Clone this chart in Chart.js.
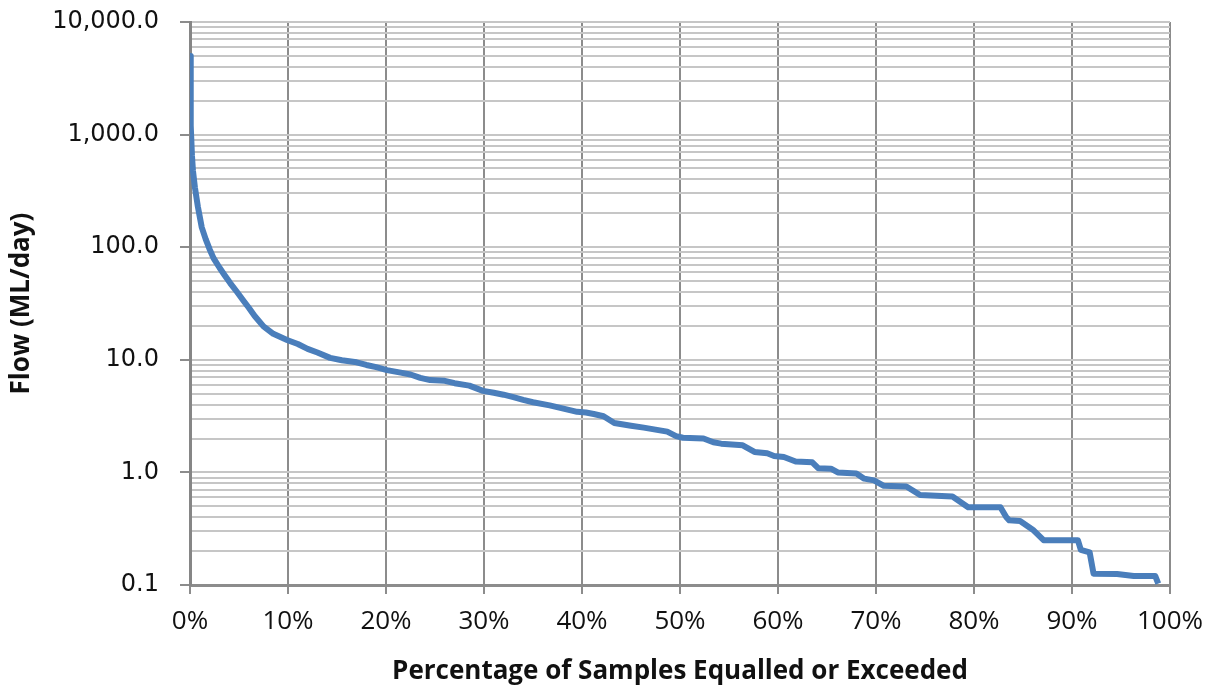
<!DOCTYPE html>
<html>
<head>
<meta charset="utf-8">
<script src="https://cdn.jsdelivr.net/npm/chart.js@4/dist/chart.umd.min.js"></script>
<style>
  html, body { margin: 0; padding: 0; background: #ffffff; }
  #wrap { width: 1217px; height: 689px; }
</style>
</head>
<body>
<div id="wrap"><canvas id="c" width="1217" height="689"></canvas></div>
<script>
// Flow duration curve: percentage of samples equalled or exceeded vs flow (ML/day)
const pctExceeded = [
  0, 0.05, 0.1, 0.2, 0.3, 0.5, 0.8, 1.2, 1.6, 2.0, 2.4, 3.0, 3.5, 4.1, 4.8, 5.4, 6.0, 6.6, 7.5, 8.5,
  9.9, 11, 12, 13, 14.3, 15.5, 17, 18, 19, 20.1, 21.5, 22.5, 23.5, 24.5, 26, 27, 28.5, 29.9, 31, 32,
  33, 34, 35, 36.7, 38, 39.5, 40.4, 41.2, 42.2, 43.3, 45, 46.3, 47.5, 48.7, 49.6, 50.3, 52.4, 53.4, 54.2, 56.4,
  57.6, 58.9, 59.6, 60.6, 61.8, 63.5, 64.1, 65.4, 66.1, 68.0, 68.8, 69.8, 70.8, 73.1, 74.5, 77.8, 79.4, 82.7, 83.3, 83.6,
  84.7, 86.0, 87.1, 90.6, 90.9, 91.8, 92.2, 94.6, 96.3, 98.5, 98.8
];
const flowMLday = [
  5000, 2500, 1200, 650, 480, 340, 230, 150, 118, 96, 80, 66, 57, 48, 40, 34, 29, 24.5, 19.8, 17,
  15, 13.8, 12.5, 11.6, 10.4, 9.9, 9.5, 9.0, 8.6, 8.1, 7.7, 7.4, 6.9, 6.6, 6.5, 6.2, 5.9, 5.3, 5.1, 4.9,
  4.66, 4.4, 4.2, 3.94, 3.7, 3.45, 3.4, 3.3, 3.15, 2.75, 2.6, 2.5, 2.4, 2.3, 2.1, 2.03, 2.0, 1.85, 1.8, 1.74,
  1.52, 1.48, 1.4, 1.37, 1.25, 1.23, 1.09, 1.08, 1.0, 0.98, 0.88, 0.85, 0.76, 0.75, 0.63, 0.61, 0.49, 0.49, 0.40, 0.375,
  0.37, 0.31, 0.25, 0.25, 0.205, 0.195, 0.126, 0.125, 0.12, 0.12, 0.103
];

// Axis ticks
const xTickValues = [0, 10, 20, 30, 40, 50, 60, 70, 80, 90, 100];
const decadeTicks = [0.1, 1, 10, 100, 1000, 10000];
const minorMultipliers = [2, 3, 4, 5, 6, 7, 8, 9];

const xTitle = 'Percentage of Samples Equalled or Exceeded';
const yTitle = 'Flow (ML/day)';

const points = pctExceeded.map((p, i) => ({ x: p, y: flowMLday[i] }));

const isDecade = v => decadeTicks.some(d => Math.abs(v - d) < d * 1e-9);

new Chart(document.getElementById('c'), {
  type: 'line',
  data: {
    datasets: [{
      data: points,
      borderColor: '#4a7ebb',
      borderWidth: 6,
      pointRadius: 0,
      tension: 0,
      fill: false,
      borderJoinStyle: 'round',
      borderCapStyle: 'butt'
    }]
  },
  options: {
    responsive: false,
    animation: false,
    events: [],
    layout: { padding: { top: 22, right: 47, left: 0, bottom: 0 } },
    plugins: { legend: { display: false }, tooltip: { enabled: false } },
    scales: {
      x: {
        type: 'linear',
        min: 0,
        max: 100,
        afterBuildTicks: scale => { scale.ticks = xTickValues.map(v => ({ value: v })); },
        afterFit: scale => { scale.height = 104; },
        ticks: {
          callback: v => v + '%',
          color: '#111111',
          font: { family: '"Open Sans", sans-serif', size: 26 },
          padding: 12,
          maxRotation: 0
        },
        grid: {
          color: '#8c8c8c',
          lineWidth: 2,
          tickLength: 9,
          tickColor: '#8c8c8c'
        },
        border: { color: '#8c8c8c', width: 3 },
        title: {
          display: true,
          text: xTitle,
          color: '#111111',
          font: { family: '"Open Sans", sans-serif', size: 26, weight: 'bold' },
          padding: { top: 0, bottom: 2 }
        }
      },
      y: {
        type: 'logarithmic',
        min: 0.1,
        max: 10000,
        afterBuildTicks: scale => {
          const vals = [];
          decadeTicks.forEach(d => {
            vals.push(d);
            if (d < 10000) minorMultipliers.forEach(m => vals.push(d * m));
          });
          scale.ticks = vals.map(v => ({ value: v, major: isDecade(v) }));
        },
        afterFit: scale => {
          scale.width = 190;
          // only the half-height of the end labels needs room above/below the plot
          scale.paddingTop = 15;
          scale.paddingBottom = 15;
        },
        ticks: {
          autoSkip: false,
          callback: v => isDecade(v)
            ? Number(v).toLocaleString('en-US', { minimumFractionDigits: 1, maximumFractionDigits: 1 })
            : '',
          color: '#111111',
          font: { family: '"DejaVu Sans", Verdana, sans-serif', size: 24 },
          padding: 21
        },
        grid: {
          color: '#c6c6c6',
          lineWidth: 2,
          tickLength: 10,
          tickColor: ctx => (ctx.tick && isDecade(ctx.tick.value)) ? '#8c8c8c' : 'rgba(0,0,0,0)'
        },
        border: { color: '#868686', width: 3 },
        title: {
          display: true,
          text: yTitle,
          color: '#111111',
          font: { family: '"Open Sans", sans-serif', size: 26, weight: 'bold' },
          padding: { top: 6, bottom: 0 }
        }
      }
    }
  }
});
</script>
</body>
</html>
